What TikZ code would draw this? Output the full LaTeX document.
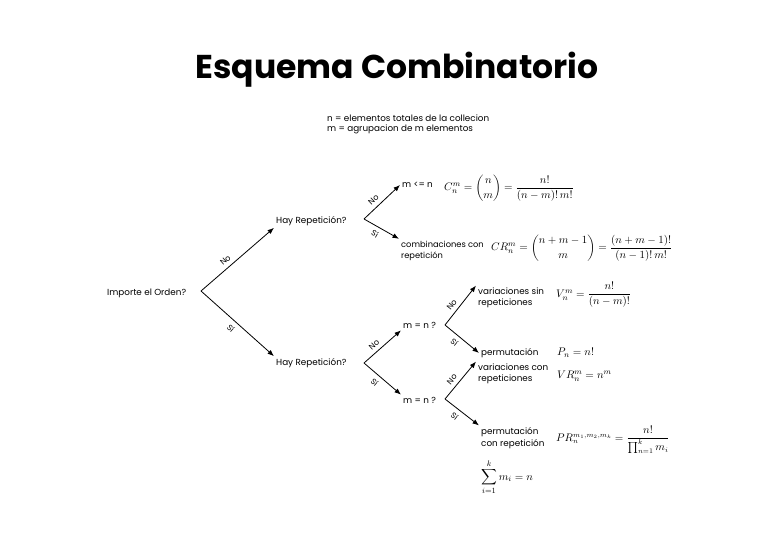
\documentclass[tikz,border=0pt]{standalone}
\usepackage{amsmath}
\usepackage{fontspec}
\setmainfont{Poppins}
\usetikzlibrary{arrows.meta,positioning,calc}

\tikzset{
  txt/.style={font=\fontsize{8.8}{11.5}\selectfont,inner sep=2pt,align=left,anchor=west},
  frm/.style={font=\fontsize{11}{13}\selectfont,inner sep=1pt,anchor=west},
  br/.style={-{Latex[length=6.5pt,width=5pt]},line width=0.8pt},
  ans/.style={font=\fontsize{8}{9}\selectfont,inner sep=4pt,sloped},
}

\begin{document}
\begin{tikzpicture}[x=1pt,y=-1pt]
  \useasboundingbox (0,0) rectangle (768,543);
  \node[font=\fontsize{33}{38}\selectfont\bfseries] (title) at (397,70) {Esquema Combinatorio};
  \node[txt,font=\fontsize{8.8}{10}\selectfont] (leg) at (325,124)
    {n = elementos totales de la collecion\\m = agrupacion de m elementos};

  % preguntas
  \node[txt] (ord) at (105,293) {Importe el Orden?};
  \node[txt] (rep1) at (274,221) {Hay Repetición?};
  \node[txt] (rep2) at (274,363) {Hay Repetición?};
  \node[txt] (mn1) at (401,325) {m = n ?};
  \node[txt] (mn2) at (401,400) {m = n ?};

  % resultados
  \node[txt] (mln) at (400,185) {m <= n};
  \node[frm] (fc) at (443,188) {$C_n^m = \dbinom{n}{m} = \dfrac{n!}{(n-m)!\,m!}$};
  \node[txt,font=\fontsize{8.3}{11.5}\selectfont] (cr) at (399,251) {combinaciones con\\repetición};
  \node[frm] (fcr) at (490,248) {$CR_n^m = \dbinom{n+m-1}{m} = \dfrac{(n+m-1)!}{(n-1)!\,m!}$};
  \node[txt] (vsr) at (476,298) {variaciones sin\\repeticiones};
  \node[frm] (fv) at (555,295) {$V_n^m = \dfrac{n!}{(n-m)!}$};
  \node[txt] (per) at (479,353) {permutación};
  \node[frm] (fp) at (556,353) {$P_n = n!$};
  \node[txt] (vcr) at (476,374) {variaciones con\\repeticiones};
  \node[frm] (fvr) at (556,376) {$VR_n^m = n^m$};
  \node[txt] (pcr) at (479,438) {permutación\\con repetición};
  \node[frm,font=\fontsize{10.5}{13}\selectfont] (fpr) at (555,440)
    {$PR_n^{m_1,m_2,m_k} = \dfrac{n!}{\prod_{n=1}^{k} m_i}$};
  \node[frm] (fs) at (480,477) {$\displaystyle\sum_{i=1}^{k} m_i = n$};

  % ramas
  \coordinate (v0) at (201,291);
  \coordinate (v1) at (364,219);
  \coordinate (v2) at (364,363);
  \coordinate (v3) at (445,325);
  \coordinate (v4) at (445,399);

  \draw[br] (v0) -- (rep1.south west) node[ans,above,pos=0.4] {No};
  \draw[br] (v0) -- (rep2.north west) node[ans,below,pos=0.48] {Sí};
  \draw[br] (v1) -- (mln.west) node[ans,above,pos=0.4] {No};
  \draw[br] (v1) -- (cr.north west) node[ans,below,pos=0.42] {Sí};
  \draw[br] (v2) -- (mn1.south west) node[ans,above,pos=0.4] {No};
  \draw[br] (v2) -- (mn2.north west) node[ans,below,pos=0.42] {Sí};
  \draw[br] (v3) -- (vsr.north west) node[ans,above,pos=0.4] {No};
  \draw[br] (v3) -- (per.west) node[ans,below,pos=0.42] {Sí};
  \draw[br] (v4) -- (vcr.north west) node[ans,above,pos=0.4] {No};
  \draw[br] (v4) -- (pcr.north west) node[ans,below,pos=0.42] {Sí};
\end{tikzpicture}
\end{document}
